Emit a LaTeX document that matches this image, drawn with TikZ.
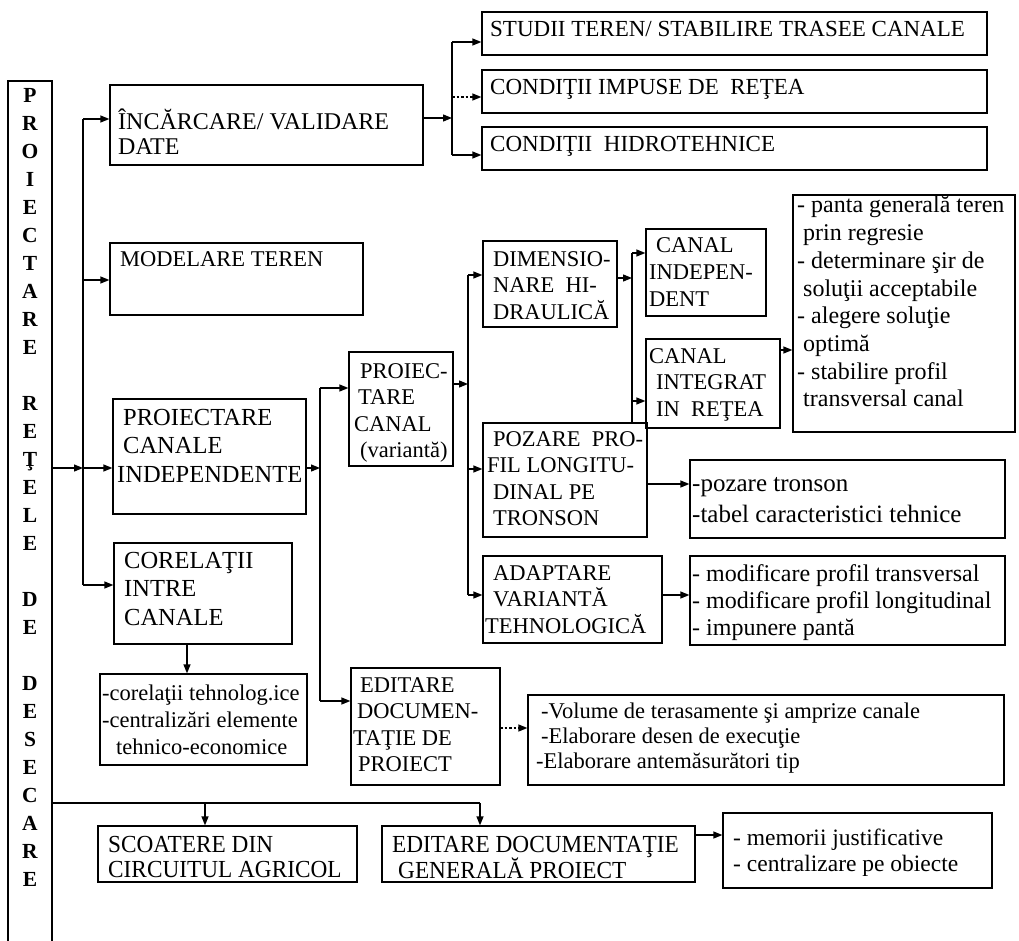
\documentclass[tikz,border=0pt]{standalone}
\usepackage{fontspec}
\setmainfont{Liberation Serif}
\newfontfamily\condfont[FakeStretch=0.95]{Liberation Serif}
\usetikzlibrary{arrows.meta,fit,calc}
% stacked lines whose baseline is the first line
\newcommand\rows[1]{\vtop{\halign{##\hfil\cr#1\crcr}}}
\newcommand\crows[1]{\vtop{\halign{\hfil##\hfil\cr#1\crcr}}}
\begin{document}
\begin{tikzpicture}[x=1pt,y=-1pt,
  box/.style={draw, line width=1.25pt, inner sep=0pt},
  txt/.style={inner sep=0pt, anchor=base west},
  capA/.style={txt, font=\fontsize{22.5}{26.5}\selectfont},
  capB/.style={txt, font=\fontsize{24.5}{28.5}\selectfont},
  lst/.style={txt, font=\fontsize{23.5}{26.5}\selectfont},
  link/.style={line width=1.25pt},
  arr/.style={link, -{Triangle[length=9pt,width=7pt]}},
  darr/.style={arr, dash pattern=on 2.5pt off 2pt}
]
\useasboundingbox (0,0) rectangle (1019,941);

% title column
\draw[link] (8,941) -- (8,81) -- (52,81) -- (52,941);
\node[inner sep=0pt, anchor=base,
      font=\bfseries\fontsize{21.5}{28}\selectfont] (title) at (30,102.5)
  {\crows{P\cr R\cr O\cr I\cr E\cr C\cr T\cr A\cr R\cr E\cr ~\cr R\cr E\cr Ţ\cr E\cr L\cr E\cr ~\cr D\cr E\cr ~\cr D\cr E\cr S\cr E\cr C\cr A\cr R\cr E}};
\coordinate (colR) at (52,468);
\coordinate (colB) at (52,803);

% first level boxes
\node[box, fit={(110,85) (423,165)}] (incarc) {};
\node[txt, font=\fontsize{24}{25}\selectfont] (incarcT) at (118,130) {\rows{ÎNCĂRCARE/ VALIDARE\cr DATE}};
\node[box, fit={(110,243) (363,315)}] (model) {};
\node[capA] (modelT) at (120,266) {MODELARE TEREN};
\node[box, fit={(113,399) (306,514)}] (pci) {};
\node[capB] (pciT) at (123,425) {\rows{PROIECTARE\cr CANALE\cr \hspace*{-6pt}INDEPENDENTE}};
\node[box, fit={(114,543) (292,644)}] (corel) {};
\node[capB] (corelT) at (124,568) {\rows{CORELAŢII\cr INTRE\cr CANALE}};
\node[box, fit={(100,674) (307,765)}] (corL) {};
\node[txt, font=\fontsize{22.5}{27}\selectfont] (corLT) at (102,700)
  {\rows{-corelaţii tehnolog.ice\cr -centralizări elemente\cr \hspace*{14pt}tehnico-economice}};

% data boxes
\node[box, fit={(482,12) (987,55)}] (studii) {};
\node[txt, font=\fontsize{23}{26}\selectfont] (studiiT) at (490,37) {STUDII TEREN/ STABILIRE TRASEE CANALE};
\node[box, fit={(482,70) (987,113)}] (impuse) {};
\node[txt, font=\fontsize{23}{26}\selectfont] (impuseT) at (490,95) {CONDIŢII IMPUSE DE \ REŢEA};
\node[box, fit={(482,127) (987,170)}] (hidro) {};
\node[txt, font=\fontsize{23}{26}\selectfont] (hidroT) at (490,152) {CONDIŢII \ HIDROTEHNICE};

% channel design
\node[box, fit={(349,352) (453,466)}] (pcanal) {};
\node[capA] (pcanalT) at (358,378) {\rows{\hspace*{2pt}PROIEC-\cr TARE\cr \hspace*{-4pt}CANAL\cr \hspace*{2pt}(variantă)}};
\node[box, fit={(351,668) (500,785)}] (edit) {};
\node[capA] (editT) at (360,692) {\rows{EDITARE\cr \hspace*{-3pt}DOCUMEN-\cr \hspace*{-7pt}TAŢIE DE\cr \hspace*{-2pt}PROIECT}};
\node[box, fit={(528,695) (1004,785)}] (vol) {};
\node[txt, font=\fontsize{22.5}{25}\selectfont] (volT) at (536,718)
  {\rows{\hspace*{5pt}-Volume de terasamente şi amprize canale\cr \hspace*{5pt}-Elaborare desen de execuţie\cr -Elaborare antemăsurători tip}};

\node[box, fit={(483,241) (617,327)}] (dimens) {};
\node[capA] (dimensT) at (493,266) {\rows{DIMENSIO-\cr NARE \ HI-\cr DRAULICĂ}};
\node[box, fit={(483,423) (647,537)}] (pozare) {};
\node[capA] (pozareT) at (493,446) {\rows{POZARE \ PRO-\cr \hspace*{-6pt}FIL LONGITU-\cr DINAL PE\cr TRONSON}};
\node[box, fit={(483,556) (662,643)}] (adapt) {};
\node[capA] (adaptT) at (493,580) {\rows{ADAPTARE\cr VARIANTĂ\cr \hspace*{-8pt}TEHNOLOGICĂ}};

\node[box, fit={(646,229) (766,316)}] (indep) {};
\node[capA] (indepT) at (656,253) {\rows{CANAL\cr \hspace*{-7pt}INDEPEN-\cr \hspace*{-7pt}DENT}};
\node[box, fit={(646,339) (780,428)}] (integ) {};
\node[capA] (integT) at (649,363) {\rows{CANAL\cr \hspace*{7pt}INTEGRAT\cr \hspace*{7pt}IN \ REŢEA}};

\node[box, fit={(793,195) (1015,432)}] (panta) {};
\node[txt, font=\fontsize{24}{27.7}\selectfont] (pantaT) at (797,213)
  {\rows{- panta generală teren\cr \hspace*{6pt}prin regresie\cr - determinare şir de\cr \hspace*{6pt}soluţii acceptabile\cr - alegere soluţie\cr \hspace*{6pt}optimă\cr - stabilire profil\cr \hspace*{6pt}transversal canal}};

\node[box, fit={(690,460) (1005,538)}] (pozL) {};
\node[txt, font=\fontsize{25}{31}\selectfont] (pozLT) at (692,491) {\rows{-pozare tronson\cr -tabel caracteristici tehnice}};
\node[box, fit={(690,556) (1005,645)}] (adL) {};
\node[txt, font=\fontsize{24}{27}\selectfont] (adLT) at (692,581) {\rows{- modificare profil transversal\cr - modificare profil longitudinal\cr - impunere pantă}};

% bottom row
\node[box, fit={(98,826) (357,882)}] (scoat) {};
\node[txt, font=\condfont\fontsize{24.5}{25}\selectfont] (scoatT) at (108,852) {\rows{SCOATERE DIN\cr CIRCUITUL AGRICOL}};
\node[box, fit={(382,826) (695,882)}] (edgen) {};
\node[txt, font=\condfont\fontsize{24.5}{25}\selectfont] (edgenT) at (392,852) {\rows{EDITARE DOCUMENTAŢIE\cr \hspace*{6pt}GENERALĂ PROIECT}};
\node[box, fit={(723,813) (992,888)}] (memo) {};
\node[lst] (memoT) at (733,845) {\rows{- memorii justificative\cr - centralizare pe obiecte}};

% main trunk
\coordinate (ta) at (83,119);
\coordinate (tb) at (83,280);
\coordinate (tc) at (83,468);
\coordinate (td) at (83,585);
\draw[link] (ta) -- (td);
\draw[arr] (colR) -- (tc);
\draw[arr] (ta) -- (ta -| incarc.west);
\draw[arr] (tb) -- (tb -| model.west);
\draw[arr] (tc) -- (tc -| pci.west);
\draw[arr] (td) -- (td -| corel.west);
\draw[arr] (corel.south -| 187,0) -- (corL.north -| 187,0);

% data branch
\coordinate (da) at (452,42);
\coordinate (db) at (452,97);
\coordinate (dc) at (452,155);
\coordinate (dj) at (452,118);
\draw[arr] (dj -| incarc.east) -- (dj);
\draw[link] (da) -- (dc);
\draw[arr] (da) -- (da -| studii.west);
\draw[darr] (db) -- (db -| impuse.west);
\draw[arr] (dc) -- (dc -| hidro.west);

% channel branch
\coordinate (pa) at (320,388);
\coordinate (pj) at (320,468);
\coordinate (pb) at (320,701);
\draw[arr] (pj -| pci.east) -- (pj);
\draw[link] (pa) -- (pb);
\draw[arr] (pa) -- (pa -| pcanal.west);
\draw[arr] (pb) -- (pb -| edit.west);
\coordinate (ej) at (500,728);
\draw[darr] (ej) -- (ej -| vol.west);

% variant branch
\coordinate (va) at (468,275);
\coordinate (vj) at (468,384);
\coordinate (vb) at (468,469);
\coordinate (vc) at (468,595);
\draw[arr] (vj -| pcanal.east) -- (vj);
\draw[link] (va) -- (vc);
\draw[arr] (va) -- (va -| dimens.west);
\draw[arr] (vb) -- (vb -| pozare.west);
\draw[arr] (vc) -- (vc -| adapt.west);

% hydraulic branch
\coordinate (ha) at (632,253);
\coordinate (hj) at (632,278);
\coordinate (hb) at (632,401);
\draw[arr] (hj -| dimens.east) -- (hj);
\draw[link] (ha) -- (ha |- pozare.north);
\draw[arr] (ha) -- (ha -| indep.west);
\draw[arr] (hb) -- (hb -| integ.west);

% detail lists
\coordinate (ia) at (780,350);
\draw[arr] (ia) -- (ia -| panta.west);
\coordinate (za) at (647,484);
\draw[arr] (za) -- (za -| pozL.west);
\coordinate (aa) at (662,595);
\draw[arr] (aa) -- (aa -| adL.west);

% general documentation
\coordinate (ga) at (205,803);
\coordinate (gb) at (480,803);
\draw[link] (colB) -- (gb);
\draw[arr] (ga) -- (ga |- scoat.north);
\draw[arr] (gb) -- (gb |- edgen.north);
\coordinate (gm) at (695,835);
\draw[arr] (gm) -- (gm -| memo.west);
\end{tikzpicture}
\end{document}
